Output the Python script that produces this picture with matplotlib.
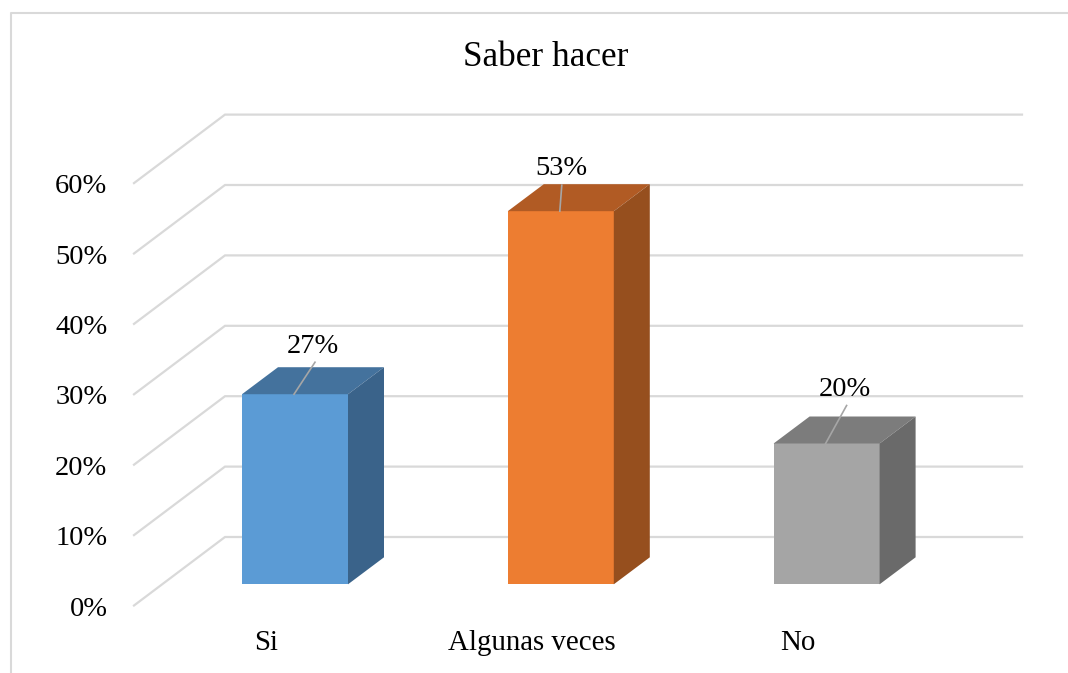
import matplotlib
matplotlib.use('Agg')
import matplotlib.pyplot as plt
from matplotlib.patches import Polygon

plt.rcParams['font.family'] = ['Liberation Serif', 'DejaVu Serif']

categories = ['Si', 'Algunas veces', 'No']
values = [27, 53, 20]
labels = ['27%', '53%', '20%']
ticks = [0, 10, 20, 30, 40, 50, 60]
front = ['#5B9BD5', '#ED7D31', '#A5A5A5']
top = ['#44729D', '#B15B24', '#7C7C7C']
side = ['#3A638A', '#964F1E', '#6A6A6A']

# leader line tip and label centre, offset in px from the bar's top front edge
tip_off = [(21, 32), (2, 26), (21, 38)]
label_off = [(18, 48), (1, 43), (18, 54)]

CAT_W = 265.8   # px per category
PCT_H = 7.04    # px per percent
X0 = 295        # px of first bar centre
Y0 = 537        # px of 0% on the back wall

fig = plt.figure(figsize=(10.68, 6.73), dpi=100)
ax = fig.add_axes([0, 0, 1, 1])
ax.set_xlim(-X0 / CAT_W, (1068 - X0) / CAT_W)
ax.set_ylim((Y0 - 673) / PCT_H, Y0 / PCT_H)
ax.axis('off')

px = 1 / CAT_W
py = 1 / PCT_H


def xp(x):
    return (x - X0) * px


def yp(y):
    return (Y0 - y) * py


# chart frame, no right side in the picture
ax.plot([xp(10.5), xp(10.5), xp(1068)], [yp(673), yp(13.5), yp(13.5)], color='#D9D9D9', lw=1.5)

# gridlines: diagonal side wall plus back wall
for t in ticks:
    ax.plot([xp(134), xp(225), xp(1022)], [t - 68.5 * py, t, t], color='#D9D9D9', lw=1.6,
            solid_joinstyle='miter')
    ax.text(xp(107.5), t + yp(609), f'{t}%', ha='right', va='center', fontsize=20.5)

# 3D bars
half = 53 * px
dx = 36 * px
dy = 27 * py
base = yp(584.3)
for i, v in enumerate(values):
    x0, x1 = i - half, i + half
    y1 = base + v
    ax.add_patch(Polygon([(x0, base), (x1, base), (x1, y1), (x0, y1)], color=front[i], lw=0, zorder=3))
    ax.add_patch(Polygon([(x0, y1), (x1, y1), (x1 + dx, y1 + dy), (x0 + dx, y1 + dy)], color=top[i], lw=0, zorder=3))
    ax.add_patch(Polygon([(x1, base), (x1 + dx, base + dy), (x1 + dx, y1 + dy), (x1, y1)], color=side[i], lw=0, zorder=3))
    # leader line and label
    ax.plot([i - 1 * px, i + (tip_off[i][0] - 1) * px], [y1, y1 + tip_off[i][1] * py], color='#A6A6A6', lw=1.2, zorder=4)
    ax.text(i + label_off[i][0] * px, y1 + label_off[i][1] * py, labels[i], ha='center', va='center',
            fontsize=20.5, zorder=5)
    ax.text(i - 28.5 * px, yp(642.5), categories[i], ha='center', va='center', fontsize=20.8)

ax.text(xp(545.5), yp(58), 'Saber hacer', ha='center', va='center', fontsize=25.4)

fig.savefig('out.png', dpi=100)
